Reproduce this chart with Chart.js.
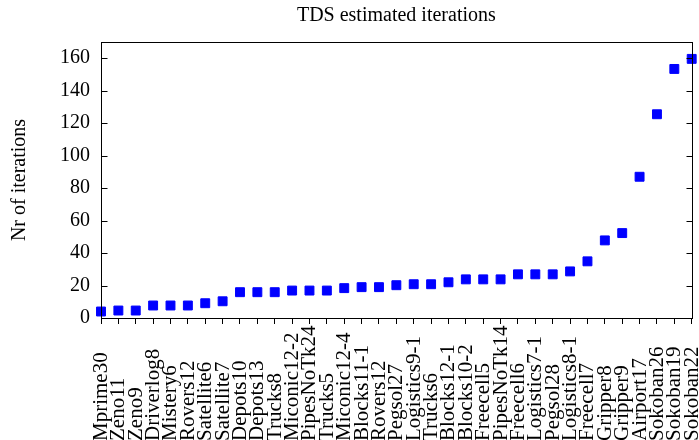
<!DOCTYPE html>
<html>
<head>
<meta charset="utf-8">
<script src="https://cdn.jsdelivr.net/npm/chart.js@4.4.1/dist/chart.umd.min.js"></script>
<style>
    html, body { margin: 0; padding: 0; background: #ffffff; }
    canvas { display: block; }
</style>
</head>
<body>
<canvas id="iterations-chart" width="699" height="440"></canvas>
<script>
// Problemas ordenados pelo número estimado de iterações
const problems = [
    'Mprime30', 'Zeno11', 'Zeno9', 'Driverlog8', 'Mistery6', 'Rovers12', 'Satellite6',
    'Satellite7', 'Depots10', 'Depots13', 'Trucks8', 'Miconic12-2', 'PipesNoTk24',
    'Trucks5', 'Miconic12-4', 'Blocks11-1', 'Rovers12', 'Pegsol27', 'Logistics9-1',
    'Trucks6', 'Blocks12-1', 'Blocks10-2', 'Freecell5', 'PipesNoTk14', 'Freecell6',
    'Logistics7-1', 'Pegsol28', 'Logistics8-1', 'Freecell7', 'Gripper8', 'Gripper9',
    'Airport17', 'Sokoban26', 'Sokoban19', 'Sokoban22'
];

const iterations = [
    4, 4.6, 4.6, 7.7, 7.7, 7.7, 9.1,
    10.3, 15.9, 15.9, 15.9, 16.9, 16.9,
    16.9, 18.4, 19, 19, 20.2, 20.8,
    20.8, 22, 23.8, 23.8, 23.8, 26.9,
    26.9, 26.9, 28.7, 34.9, 47.8, 52.3,
    87, 125.5, 153.4, 159.6
];

const yTicks = [0, 20, 40, 60, 80, 100, 120, 140, 160];

const serif = "'Liberation Serif', 'Times New Roman', serif";

// Caixa do gráfico, marcas do eixo y para dentro e rótulos do eixo x
const gnuplotFrame = {
    id: 'gnuplotFrame',
    afterDraw(chart) {
        const ctx = chart.ctx;
        const area = chart.chartArea;
        const x = chart.scales.x;
        const y = chart.scales.y;
        const left = Math.round(area.left) + 0.5;
        const right = Math.round(area.right) + 0.5;
        const top = Math.round(area.top) + 0.5;
        const bottom = Math.round(area.bottom) + 0.5;

        ctx.save();
        ctx.strokeStyle = '#000000';
        ctx.lineWidth = 1;
        ctx.strokeRect(left, top, right - left, bottom - top);

        ctx.beginPath();
        yTicks.forEach(v => {
            const py = Math.round(y.getPixelForValue(v)) + 0.5;
            ctx.moveTo(left, py);
            ctx.lineTo(left + 6, py);
            ctx.moveTo(right, py);
            ctx.lineTo(right - 6, py);
        });
        ctx.stroke();

        ctx.fillStyle = '#000000';
        ctx.font = '21px ' + serif;
        ctx.textAlign = 'left';
        ctx.textBaseline = 'alphabetic';
        problems.forEach((name, i) => {
            const px = x.getPixelForValue(i);
            ctx.save();
            ctx.translate(px + 6, 441);
            ctx.rotate(-Math.PI / 2);
            ctx.fillText(name, 0, 0);
            ctx.restore();
        });
        ctx.restore();
    }
};

const ctx = document.getElementById('iterations-chart').getContext('2d');

new Chart(ctx, {
    type: 'line',
    data: {
        labels: problems,
        datasets: [{
            data: iterations,
            showLine: false,
            pointStyle: 'rect',
            pointRadius: 6.3,
            pointBorderWidth: 1,
            pointBackgroundColor: '#0000ff',
            pointBorderColor: '#0000ff',
            clip: false
        }]
    },
    options: {
        responsive: false,
        animation: false,
        layout: {
            padding: { left: 0, right: 7, top: 0, bottom: 0 }
        },
        plugins: {
            legend: { display: false },
            tooltip: { enabled: false },
            title: {
                display: true,
                fullSize: false,
                text: 'TDS estimated iterations',
                color: '#000000',
                font: { family: serif, size: 20, weight: 'normal', lineHeight: 1.2 },
                padding: { top: 4, bottom: 14 }
            }
        },
        scales: {
            x: {
                type: 'category',
                offset: false,
                grid: {
                    display: true,
                    drawOnChartArea: false,
                    drawTicks: true,
                    tickLength: 6,
                    color: '#000000',
                    lineWidth: 1
                },
                border: { display: true, color: '#000000' },
                ticks: { display: false, autoSkip: false },
                afterFit(scale) {
                    scale.height = 122;
                }
            },
            y: {
                min: 0,
                max: 170,
                grid: { display: false, drawTicks: false },
                border: { display: true, color: '#000000' },
                ticks: {
                    stepSize: 20,
                    padding: 11,
                    color: '#000000',
                    font: { family: serif, size: 20 }
                },
                afterBuildTicks(scale) {
                    scale.ticks = yTicks.map(v => ({ value: v }));
                },
                title: {
                    display: true,
                    text: 'Nr of iterations',
                    color: '#000000',
                    font: { family: serif, size: 20 },
                    padding: { top: 8, bottom: 0 }
                },
                afterFit(scale) {
                    scale.width = 101;
                }
            }
        }
    },
    plugins: [gnuplotFrame]
});
</script>
</body>
</html>
